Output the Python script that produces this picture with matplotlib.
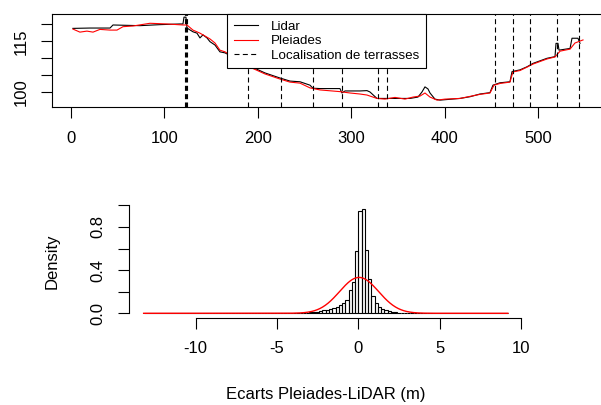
import numpy as np
import matplotlib
matplotlib.use("Agg")
import matplotlib.pyplot as plt

plt.rcParams['font.family'] = ['Liberation Sans', 'DejaVu Sans']
plt.rcParams['axes.unicode_minus'] = False

# profil Lidar / Pleiades (distance, altitude)
lidar_dist = [2.1, 20.3, 41.8, 45.0, 73.9, 95.3, 116.7, 119.9, 121.0, 123.1, 124.2, 130.6, 134.9,
              138.1, 141.3, 145.6, 148.8, 154.2, 159.5, 164.9, 175.6, 191.6, 207.7, 223.8, 234.5,
              245.2, 255.9, 259.1, 266.6, 288.0, 290.1, 293.4, 309.4, 316.9, 320.1, 327.6, 341.5,
              363.0, 371.5, 375.8, 379.0, 382.2, 384.4, 389.7, 395.1, 416.5, 427.2, 437.9, 448.6,
              451.8, 459.3, 470.0, 472.2, 480.7, 488.2, 494.6, 509.6, 518.2, 519.3, 521.4, 522.5,
              534.3, 536.4, 542.8, 545.0]
lidar_z = [118.8, 118.9, 118.9, 119.8, 119.6, 119.9, 120.1, 120.1, 122.1, 122.1, 118.9, 117.8, 117.4,
           116.0, 116.9, 116.0, 114.9, 113.9, 111.9, 111.6, 110.1, 107.7, 105.7, 104.2, 103.3,
           103.1, 102.1, 101.2, 101.1, 101.1, 99.8, 100.4, 100.4, 100.5, 100.1, 98.2, 98.2,
           98.2, 98.6, 100.1, 101.6, 101.0, 99.8, 98.0, 97.7, 98.2, 98.7, 99.5, 99.9,
           102.1, 102.8, 103.1, 106.1, 106.6, 107.5, 108.5, 110.0, 110.5, 114.4, 114.4, 112.4,
           112.9, 115.9, 115.9, 114.4]
pleiades_dist = [2.1, 9.6, 17.1, 23.6, 31.0, 41.8, 49.3, 55.7, 66.4, 84.6, 102.8, 119.9, 124.2,
                 130.6, 138.1, 148.8, 154.2, 159.5, 164.9, 175.6, 191.6, 207.7, 223.8, 234.5,
                 245.2, 255.9, 266.6, 288.0, 298.7, 309.4, 316.9, 327.6, 336.2, 346.9, 357.6,
                 366.2, 373.7, 379.0, 384.4, 391.9, 400.4, 416.5, 427.2, 437.9, 448.6, 452.9,
                 459.3, 470.0, 473.2, 480.7, 488.2, 494.6, 509.6, 518.2, 523.6, 534.3, 539.6, 548.2]
pleiades_z = [118.6, 117.7, 118.0, 117.7, 118.5, 118.3, 118.3, 119.3, 119.5, 120.3, 120.1, 119.8, 119.8,
              118.3, 117.4, 115.7, 114.5, 112.4, 111.9, 110.1, 107.4, 105.4, 103.9, 103.0,
              102.7, 101.3, 100.7, 100.2, 99.8, 99.5, 99.2, 98.2, 98.0, 98.5, 98.0,
              98.6, 98.9, 99.8, 98.6, 97.7, 98.0, 98.2, 98.8, 99.4, 99.8, 102.1,
              102.6, 103.0, 106.0, 106.4, 107.4, 108.3, 109.8, 110.4, 112.1, 112.7, 114.5, 115.4]
terrasses = [122.6, 123.4, 124.2, 189.5, 224.8, 259.1, 290.1, 328.7, 338.3, 454.0, 473.0, 491.0, 520.0, 544.0]

# histogramme des ecarts
bin_start = -13.2
bin_w = 0.2
n_bins = 112
dens_start = -3.4
dens_values = [0.003, 0.005, 0.008, 0.012, 0.016, 0.02, 0.026, 0.033, 0.04, 0.05, 0.06, 0.075,
               0.095, 0.125, 0.215, 0.29, 0.58, 0.95, 0.965, 0.585, 0.315, 0.16, 0.093, 0.056,
               0.04, 0.026, 0.018, 0.012, 0.008, 0.005, 0.003]
ecart_mean = 0.05
ecart_sd = 1.2

fig = plt.figure(figsize=(6.01, 4.05), dpi=100)

# --- profil ---
ax1 = fig.add_axes([52/601, 1-107/405, (603-52)/601, 93/405])
ax1.plot(lidar_dist, lidar_z, color="black", lw=0.8, label="Lidar")
ax1.plot(pleiades_dist, pleiades_z, color="red", lw=0.8, label="Pleiades")
for i, t in enumerate(terrasses):
    ax1.axvline(t, color="black", lw=0.8, dashes=(4.5, 3),
                label="Localisation de terrasses" if i == 0 else None)
ax1.set_xlim(-20.3, 569.6)
ax1.set_ylim(95.68, 123.03)
ax1.set_xticks([0, 100, 200, 300, 400, 500])
ax1.set_yticks([100, 105, 110, 115, 120])
ax1.set_yticklabels(["100", "", "", "115", ""], rotation=90, va="center")
ax1.tick_params(direction="out", length=8, width=0.8, labelsize=12, pad=9)
for s in ax1.spines.values():
    s.set_linewidth(0.8)
leg = ax1.legend(loc="upper left", bbox_to_anchor=(227/601, 1-14/405), bbox_transform=fig.transFigure,
                 fontsize=9.6, frameon=True, fancybox=False, edgecolor="black", framealpha=1,
                 borderaxespad=0, handlelength=1.8, handletextpad=1.0, labelspacing=0.15, borderpad=0.5)
leg.get_frame().set_linewidth(0.8)

# --- histogramme ---
ax2 = fig.add_axes([129/601, 1-317.7/405, 393.5/601, 112.7/405])
dens = np.zeros(n_bins)
i0 = int(round((dens_start - bin_start) / bin_w))
dens[i0:i0+len(dens_values)] = dens_values
left = bin_start + bin_w*np.arange(n_bins)
ax2.bar(left, dens, width=bin_w, align="edge", fill=False, edgecolor="black", lw=0.8)
xs = np.linspace(bin_start, bin_start + bin_w*n_bins, 400)
ax2.plot(xs, np.exp(-0.5*((xs-ecart_mean)/ecart_sd)**2)/(ecart_sd*np.sqrt(2*np.pi)), color="red", lw=1)
ax2.set_xlim(-14.1, 10.1)
ax2.set_ylim(-0.0407, 1.003)
for k in ["top", "right"]:
    ax2.spines[k].set_visible(False)
ax2.spines["left"].set_bounds(0, 1.0)
ax2.spines["bottom"].set_bounds(-10, 10)
ax2.spines["left"].set_linewidth(0.8)
ax2.spines["bottom"].set_linewidth(0.8)
ax2.set_xticks([-10, -5, 0, 5, 10])
ax2.set_yticks([0, 0.2, 0.4, 0.6, 0.8, 1.0])
ax2.set_yticklabels(["0.0", "", "0.4", "", "0.8", ""], rotation=90, va="center")
ax2.tick_params(direction="out", length=8, width=0.8, labelsize=12, pad=9)
ax2.set_ylabel("Density", fontsize=12, labelpad=22)
ax2.set_xlabel("Ecarts Pleiades-LiDAR (m)", fontsize=12, labelpad=22)

fig.savefig("out.png", dpi=100)
